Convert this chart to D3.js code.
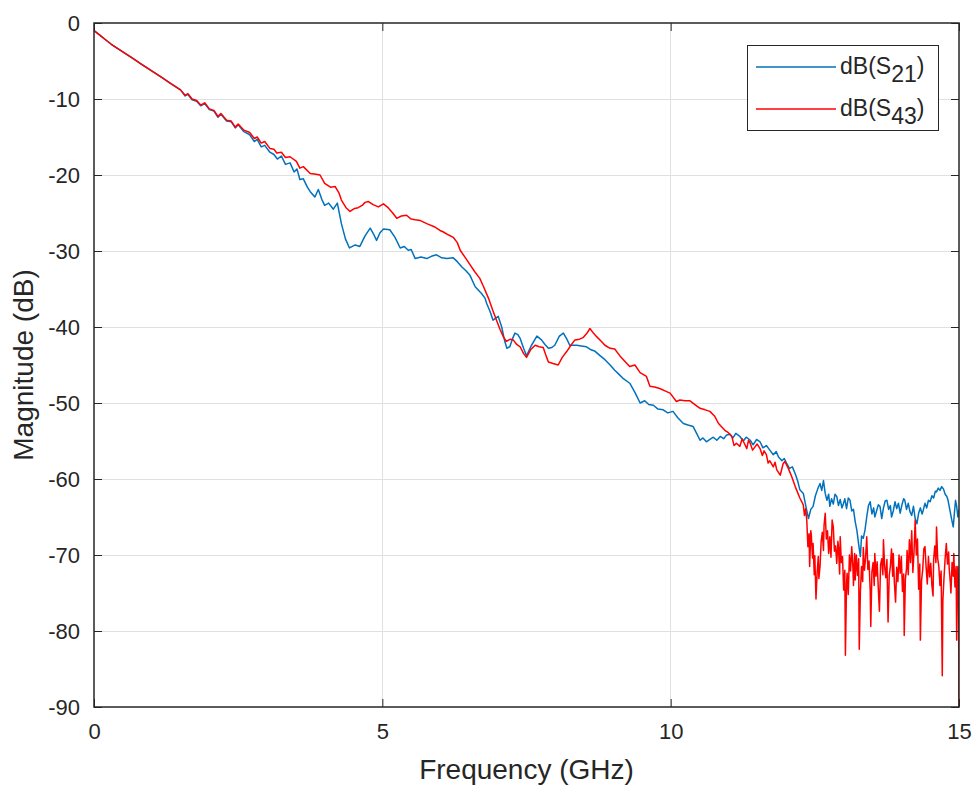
<!DOCTYPE html>
<html>
<head>
<meta charset="utf-8">
<script src="https://cdn.jsdelivr.net/npm/d3@7"></script>
<style>
  html, body { margin: 0; padding: 0; background: #ffffff; }
  svg { display: block; }
  text { font-family: "Liberation Sans", Arial, Helvetica, sans-serif; fill: #262626; }
</style>
</head>
<body>
<svg id="chart" width="979" height="786"></svg>
<script>
// ---------------- DATA ----------------
const xTicks = [0, 5, 10, 15];
const yTicks = [0, -10, -20, -30, -40, -50, -60, -70, -80, -90];
const seriesNames = ["dB(S21)", "dB(S43)"];
const seriesColors = ["#0072BD", "#FF0000"];

// dB(S21): [frequency GHz, magnitude dB]
const s21 = [
  [0,-1.0],[0.1,-1.6],[0.2,-2.2],[0.3,-2.8],[0.4,-3.3],[0.5,-3.8],[0.6,-4.3],[0.7,-4.8],[0.8,-5.3],[0.9,-5.8],
  [1.0,-6.3],[1.1,-6.8],[1.2,-7.3],[1.3,-7.8],[1.4,-8.3],[1.5,-8.8],[1.58,-9.6],[1.63,-9.4],[1.7,-10.1],[1.78,-10.3],
  [1.85,-10.9],[1.92,-10.6],[2.0,-11.4],[2.08,-11.6],[2.15,-12.4],[2.2,-12.0],[2.3,-12.9],[2.38,-13.0],[2.45,-13.8],[2.5,-13.4],
  [2.6,-14.3],[2.7,-14.7],[2.78,-15.6],[2.83,-15.3],[2.9,-16.3],[2.96,-16.1],[3.05,-17.0],[3.12,-17.3],[3.18,-17.9],[3.25,-17.5],
  [3.32,-18.6],[3.4,-18.4],[3.47,-19.6],[3.52,-19.2],[3.57,-20.6],[3.63,-20.5],[3.7,-21.6],[3.75,-22.2],[3.83,-22.9],[3.89,-21.9],
  [3.95,-23.2],[4.0,-24.0],[4.07,-23.7],[4.15,-24.5],[4.22,-23.7],[4.29,-26.4],[4.36,-28.4],[4.43,-29.6],[4.53,-29.2],[4.61,-29.4],
  [4.7,-28.0],[4.79,-27.0],[4.85,-27.8],[4.9,-28.6],[4.96,-27.6],[5.02,-27.1],[5.13,-27.2],[5.22,-28.2],[5.31,-29.6],[5.38,-29.4],
  [5.45,-29.9],[5.5,-29.8],[5.57,-31.0],[5.67,-30.8],[5.77,-31.0],[5.85,-30.7],[5.94,-30.5],[6.03,-30.9],[6.12,-31.0],[6.23,-30.9],
  [6.3,-31.4],[6.38,-32.1],[6.45,-32.6],[6.52,-33.2],[6.61,-34.7],[6.72,-35.6],[6.78,-36.2],[6.81,-36.9],[6.87,-38.0],[6.92,-39.1],
  [7.01,-38.6],[7.07,-40.0],[7.12,-41.8],[7.16,-42.8],[7.21,-42.6],[7.26,-41.5],[7.3,-40.8],[7.35,-41.0],[7.39,-41.5],[7.45,-42.8],
  [7.5,-43.8],[7.58,-42.5],[7.68,-41.2],[7.76,-41.7],[7.82,-42.3],[7.88,-42.8],[7.94,-42.7],[7.99,-42.4],[8.07,-41.2],[8.14,-40.8],
  [8.2,-41.6],[8.25,-42.4],[8.37,-42.4],[8.45,-42.5],[8.54,-42.6],[8.62,-43.0],[8.69,-43.2],[8.78,-43.8],[8.86,-44.3],[8.95,-45.0],
  [9.03,-45.7],[9.1,-46.2],[9.18,-46.8],[9.29,-47.4],[9.38,-48.6],[9.47,-50.0],[9.55,-49.7],[9.62,-50.2],[9.7,-50.3],[9.78,-50.8],
  [9.87,-50.9],[9.95,-51.3],[10.04,-51.1],[10.12,-51.9],[10.22,-52.7],[10.3,-52.9],[10.39,-53.1],[10.45,-54.0],[10.51,-54.9],[10.56,-54.6],
  [10.62,-55.1],[10.68,-54.8],[10.74,-54.5],[10.8,-54.9],[10.86,-54.4],[10.92,-54.7],[10.97,-54.2],[11.03,-54.1],[11.08,-54.6],[11.13,-54.0],
  [11.2,-54.4],[11.26,-55.0],[11.31,-54.5],[11.38,-54.9],[11.43,-55.5],[11.49,-54.8],[11.55,-55.1],[11.6,-55.9],[11.66,-55.6],[11.72,-56.2],
  [11.78,-56.8],[11.83,-56.4],[11.87,-57.1],[11.93,-57.6],[11.97,-57.3],[12.01,-57.9],[12.06,-58.6],[12.11,-58.4],[12.16,-59.3],[12.2,-60.2],
  [12.24,-61.4],[12.3,-61.9],[12.35,-63.8],[12.39,-65.2],[12.43,-64.0],[12.47,-63.6],[12.51,-62.2],[12.55,-61.3],[12.59,-60.6],[12.62,-61.5],
  [12.65,-60.2],[12.68,-61.9],[12.71,-62.8],[12.74,-62.0],[12.76,-63.6],[12.79,-62.6],[12.82,-63.3],[12.85,-62.0],[12.88,-62.3],[12.91,-63.5],
  [12.94,-62.7],[12.97,-63.8],[12.99,-63.4],[13.02,-62.6],[13.05,-63.9],[13.08,-62.5],[13.11,-62.8],[13.14,-64.2],[13.17,-64.0],[13.2,-65.6],
  [13.23,-66.8],[13.26,-68.6],[13.29,-70.2],[13.31,-67.5],[13.34,-67.8],[13.37,-66.7],[13.4,-65.0],[13.43,-63.5],[13.46,-63.0],[13.49,-64.6],
  [13.52,-63.8],[13.54,-65.0],[13.57,-64.2],[13.6,-63.4],[13.63,-63.6],[13.66,-65.2],[13.69,-63.8],[13.72,-62.9],[13.75,-62.8],[13.78,-64.0],
  [13.81,-63.5],[13.83,-65.0],[13.86,-64.2],[13.89,-63.0],[13.92,-63.9],[13.95,-63.2],[13.98,-64.5],[14.01,-63.4],[14.04,-62.6],[14.06,-62.8],
  [14.09,-64.0],[14.12,-63.2],[14.15,-64.3],[14.18,-64.8],[14.21,-63.6],[14.24,-65.2],[14.27,-65.9],[14.3,-64.5],[14.33,-63.8],[14.36,-64.6],
  [14.38,-64.1],[14.41,-63.2],[14.44,-63.8],[14.47,-62.8],[14.5,-63.0],[14.53,-62.2],[14.56,-62.5],[14.59,-61.6],[14.61,-61.7],[14.64,-61.2],
  [14.67,-61.5],[14.7,-61.0],[14.73,-61.3],[14.76,-62.0],[14.79,-62.3],[14.81,-62.8],[14.84,-64.0],[14.87,-65.2],[14.9,-66.3],[14.92,-64.5],
  [14.94,-62.8],[14.96,-63.6],[14.98,-65.0],[15.0,-64.0]
];

// dB(S43): [frequency GHz, magnitude dB]
const s43 = [
  [0,-1.0],[0.1,-1.6],[0.2,-2.2],[0.3,-2.8],[0.4,-3.3],[0.5,-3.8],[0.6,-4.3],[0.7,-4.8],[0.8,-5.3],[0.9,-5.8],
  [1.0,-6.3],[1.1,-6.8],[1.2,-7.3],[1.3,-7.8],[1.4,-8.3],[1.5,-8.8],[1.58,-9.5],[1.63,-9.3],[1.7,-10.0],[1.78,-10.2],
  [1.85,-10.8],[1.92,-10.5],[2.0,-11.3],[2.08,-11.5],[2.15,-12.3],[2.2,-11.9],[2.3,-12.8],[2.38,-12.9],[2.45,-13.7],[2.5,-13.3],
  [2.6,-14.1],[2.7,-14.4],[2.78,-15.2],[2.83,-15.0],[2.9,-15.8],[2.96,-15.6],[3.05,-16.5],[3.12,-16.6],[3.17,-17.1],[3.25,-17.0],
  [3.32,-17.7],[3.4,-17.6],[3.51,-18.2],[3.57,-19.1],[3.63,-18.9],[3.75,-19.8],[3.85,-19.9],[3.92,-20.0],[4.0,-21.1],[4.1,-21.6],
  [4.18,-21.5],[4.25,-22.4],[4.29,-23.3],[4.37,-24.3],[4.44,-24.8],[4.52,-24.4],[4.58,-24.3],[4.65,-24.0],[4.7,-23.6],[4.76,-23.5],
  [4.84,-23.9],[4.93,-24.2],[5.02,-23.8],[5.1,-24.3],[5.18,-25.0],[5.25,-25.7],[5.33,-25.4],[5.42,-25.3],[5.5,-25.8],[5.57,-25.9],
  [5.66,-26.0],[5.77,-26.4],[5.9,-26.8],[6.0,-27.3],[6.06,-27.5],[6.15,-27.9],[6.23,-28.2],[6.3,-28.9],[6.35,-29.9],[6.45,-31.0],
  [6.52,-31.8],[6.6,-32.7],[6.69,-33.6],[6.75,-34.6],[6.84,-36.2],[6.91,-37.7],[6.98,-39.1],[7.04,-40.3],[7.1,-41.3],[7.15,-41.9],
  [7.22,-41.6],[7.27,-41.7],[7.33,-42.3],[7.39,-42.6],[7.45,-43.5],[7.5,-44.0],[7.57,-43.0],[7.65,-42.4],[7.72,-42.6],[7.79,-42.7],
  [7.84,-43.8],[7.88,-44.6],[7.96,-44.8],[8.05,-45.0],[8.12,-44.0],[8.2,-43.2],[8.27,-42.4],[8.34,-41.7],[8.42,-41.6],[8.48,-41.4],
  [8.55,-40.8],[8.6,-40.2],[8.66,-40.8],[8.72,-41.3],[8.8,-41.9],[8.86,-42.4],[8.95,-42.8],[9.03,-42.9],[9.12,-43.8],[9.24,-44.8],
  [9.29,-45.2],[9.38,-45.0],[9.47,-46.0],[9.58,-46.5],[9.64,-47.8],[9.72,-47.9],[9.81,-48.1],[9.93,-48.5],[9.99,-48.7],[10.1,-49.8],
  [10.16,-49.6],[10.25,-49.7],[10.33,-49.7],[10.42,-50.2],[10.51,-50.7],[10.6,-50.9],[10.68,-51.1],[10.76,-51.7],[10.83,-52.7],[10.94,-53.6],
  [11.0,-53.9],[11.06,-54.4],[11.1,-55.6],[11.14,-55.3],[11.2,-55.7],[11.24,-54.7],[11.27,-55.2],[11.32,-56.0],[11.35,-54.9],[11.38,-55.3],
  [11.42,-56.2],[11.45,-55.9],[11.5,-55.4],[11.55,-56.0],[11.59,-56.9],[11.62,-56.3],[11.66,-56.8],[11.69,-57.9],[11.72,-57.6],[11.78,-58.4],
  [11.81,-57.8],[11.84,-58.8],[11.9,-59.5],[11.95,-58.0],[11.98,-57.7],[12.04,-58.6],[12.1,-59.7],[12.16,-61.0],[12.24,-62.5],[12.3,-63.4],
  [12.32,-64.8],[12.34,-63.9],[12.36,-65.4],[12.38,-68.9],[12.40,-67.2],[12.41,-71.5],[12.43,-66.8],[12.44,-67.5],[12.46,-70.4],[12.47,-68.5],
  [12.49,-72.6],[12.50,-70.1],[12.52,-75.8],[12.54,-72.3],[12.56,-70.2],[12.57,-73.1],[12.59,-71.5],[12.61,-68.2],[12.63,-67.0],[12.65,-69.4],
  [12.66,-66.1],[12.68,-64.5],[12.70,-67.9],[12.72,-66.8],[12.74,-69.8],[12.76,-67.6],[12.78,-70.3],[12.80,-65.4],[12.82,-66.3],[12.84,-69.5],
  [12.86,-68.8],[12.88,-71.1],[12.90,-68.2],[12.91,-69.0],[12.93,-72.5],[12.94,-67.6],[12.96,-71.0],[12.98,-70.2],[13.00,-74.6],[13.02,-72.0],
  [13.03,-83.2],[13.05,-73.8],[13.06,-72.4],[13.08,-75.2],[13.10,-70.0],[13.12,-72.1],[13.14,-68.9],[13.16,-71.6],[13.17,-74.0],[13.19,-69.8],
  [13.20,-73.3],[13.22,-70.0],[13.24,-72.7],[13.26,-70.5],[13.27,-82.4],[13.29,-74.8],[13.31,-71.5],[13.33,-73.5],[13.34,-69.0],[13.36,-72.0],
  [13.38,-70.4],[13.40,-67.6],[13.42,-71.9],[13.44,-70.8],[13.46,-74.6],[13.47,-79.4],[13.49,-72.2],[13.51,-71.0],[13.53,-74.0],[13.54,-69.8],
  [13.56,-72.8],[13.58,-70.9],[13.60,-74.3],[13.62,-77.4],[13.64,-71.3],[13.66,-70.5],[13.68,-72.6],[13.69,-68.0],[13.71,-71.4],[13.73,-73.0],
  [13.75,-70.6],[13.77,-78.8],[13.79,-72.7],[13.81,-71.5],[13.83,-69.2],[13.85,-72.8],[13.86,-69.8],[13.88,-73.7],[13.90,-76.2],[13.92,-71.6],
  [13.94,-73.5],[13.96,-70.0],[13.98,-72.4],[14.00,-70.2],[14.02,-74.8],[14.04,-72.5],[14.05,-80.6],[14.07,-73.2],[14.09,-71.8],[14.10,-69.4],
  [14.12,-72.6],[14.14,-68.0],[14.16,-71.0],[14.18,-66.8],[14.20,-72.3],[14.22,-69.6],[14.24,-65.4],[14.26,-70.0],[14.28,-67.9],[14.30,-74.5],
  [14.32,-71.2],[14.33,-81.2],[14.35,-73.4],[14.37,-72.0],[14.39,-69.2],[14.41,-68.9],[14.43,-71.6],[14.45,-73.8],[14.47,-70.2],[14.49,-72.9],
  [14.51,-71.1],[14.53,-74.0],[14.55,-75.4],[14.56,-70.6],[14.58,-68.8],[14.60,-71.0],[14.61,-66.3],[14.63,-70.4],[14.65,-71.5],[14.67,-74.0],
  [14.69,-72.1],[14.71,-85.9],[14.72,-76.0],[14.74,-73.0],[14.76,-70.4],[14.78,-68.5],[14.80,-71.2],[14.82,-69.6],[14.83,-71.8],[14.85,-73.6],
  [14.86,-75.0],[14.88,-71.0],[14.90,-72.8],[14.91,-69.8],[14.93,-74.2],[14.95,-71.5],[14.96,-81.2],[14.97,-73.4],[14.98,-71.5],[14.99,-73.0],
  [15.00,-90.0]
];

// ---------------- LAYOUT ----------------
const svg = d3.select("#chart");
const plot = { left: 94, right: 959, top: 23, bottom: 707 };
const x = d3.scaleLinear().domain([0, 15]).range([plot.left, plot.right]);
const y = d3.scaleLinear().domain([-90, 0]).range([plot.bottom, plot.top]);
const axisColor = "#262626";
const gridColor = "#e0e0e0";
const tickLen = 8;

// grid
const grid = svg.append("g");
grid.selectAll("line.gx").data(xTicks.slice(1, -1)).enter().append("line")
  .attr("x1", d => x(d)).attr("x2", d => x(d))
  .attr("y1", plot.top).attr("y2", plot.bottom)
  .attr("stroke", gridColor).attr("stroke-width", 1).attr("shape-rendering", "crispEdges");
grid.selectAll("line.gy").data(yTicks.slice(1, -1)).enter().append("line")
  .attr("x1", plot.left).attr("x2", plot.right)
  .attr("y1", d => y(d)).attr("y2", d => y(d))
  .attr("stroke", gridColor).attr("stroke-width", 1).attr("shape-rendering", "crispEdges");

// lines
svg.append("clipPath").attr("id", "clip").append("rect")
  .attr("x", plot.left).attr("y", plot.top)
  .attr("width", plot.right - plot.left).attr("height", plot.bottom - plot.top);
const line = d3.line().x(d => x(d[0])).y(d => y(d[1]));
const lines = svg.append("g").attr("clip-path", "url(#clip)");
[s21, s43].forEach((s, i) => {
  lines.append("path").datum(s)
    .attr("d", line).attr("fill", "none")
    .attr("stroke", seriesColors[i]).attr("stroke-width", 1.5)
    .attr("stroke-linejoin", "round");
});

// axes (d3 axes, ticks pointing inward)
const fontSize = 22;
const fmt = d => String(d);
const axBottom = d3.axisBottom(x).tickValues(xTicks).tickFormat(fmt).tickSizeInner(-tickLen).tickSizeOuter(0).tickPadding(16);
const axLeft = d3.axisLeft(y).tickValues(yTicks).tickFormat(fmt).tickSizeInner(-tickLen).tickSizeOuter(0).tickPadding(14);
const axTop = d3.axisTop(x).tickValues(xTicks).tickFormat("").tickSizeInner(-tickLen).tickSizeOuter(0);
const axRight = d3.axisRight(y).tickValues(yTicks).tickFormat("").tickSizeInner(-tickLen).tickSizeOuter(0);

function styleAxis(g) {
  g.select(".domain").remove();
  g.selectAll(".tick line").attr("stroke", axisColor).attr("stroke-width", 1);
  g.selectAll(".tick text").attr("fill", axisColor).style("font-size", fontSize + "px")
    .style("font-family", "'Liberation Sans', Arial, sans-serif");
}
svg.append("g").attr("transform", `translate(0,${plot.bottom})`).call(axBottom).call(styleAxis);
svg.append("g").attr("transform", `translate(${plot.left},0)`).call(axLeft).call(styleAxis);
svg.append("g").attr("transform", `translate(0,${plot.top})`).call(axTop).call(styleAxis);
svg.append("g").attr("transform", `translate(${plot.right},0)`).call(axRight).call(styleAxis);

// box
svg.append("rect")
  .attr("x", plot.left).attr("y", plot.top)
  .attr("width", plot.right - plot.left).attr("height", plot.bottom - plot.top)
  .attr("fill", "none").attr("stroke", axisColor).attr("stroke-width", 1.5);

// axis labels
svg.append("text").attr("x", (plot.left + plot.right) / 2).attr("y", 779)
  .attr("text-anchor", "middle").style("font-size", "28px").text("Frequency (GHz)");
svg.append("text").attr("transform", `translate(33,${(plot.top + plot.bottom) / 2}) rotate(-90)`)
  .attr("text-anchor", "middle").style("font-size", "28px").text("Magnitude (dB)");

// legend
const lg = svg.append("g");
lg.append("rect").attr("x", 747.5).attr("y", 45.5).attr("width", 191).attr("height", 85)
  .attr("fill", "#ffffff").attr("stroke", axisColor).attr("stroke-width", 1);
const legendRows = [
  { name: "dB(S", sub: "21", color: seriesColors[0], y: 67 },
  { name: "dB(S", sub: "43", color: seriesColors[1], y: 109 }
];
legendRows.forEach(r => {
  lg.append("line").attr("x1", 756).attr("x2", 836).attr("y1", r.y).attr("y2", r.y)
    .attr("stroke", r.color).attr("stroke-width", 1.5);
  const t = lg.append("text").attr("x", 840).attr("y", r.y + 7).style("font-size", "23px");
  t.append("tspan").text(r.name);
  t.append("tspan").attr("dy", 8).style("font-size", "23px").text(r.sub);
  t.append("tspan").attr("dy", -8).text(")");
});
</script>
</body>
</html>
